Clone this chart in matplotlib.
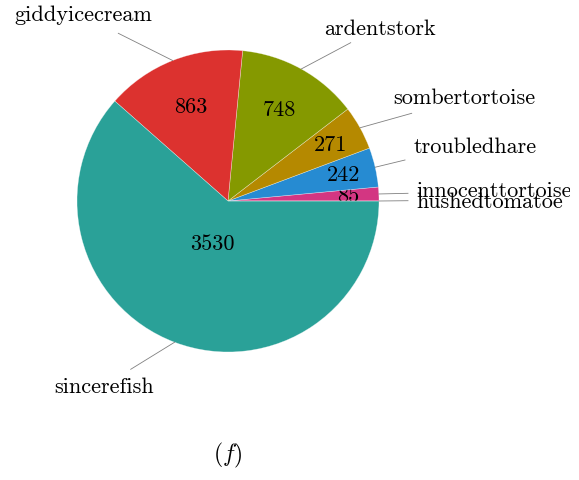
import numpy as np
import matplotlib
matplotlib.use("Agg")
from matplotlib import pyplot as plt

plt.rcParams['font.family'] = ['cmr10', 'DejaVu Serif']
plt.rcParams['mathtext.fontset'] = 'cm'
plt.rcParams['axes.unicode_minus'] = False

# slices, counterclockwise from 3 o'clock
names = ['innocenttortoise', 'troubledhare', 'sombertortoise', 'ardentstork',
         'giddyicecream', 'sincerefish', 'hushedtomatoe']
values = [85, 242, 271, 748, 863, 3530, 0]
colors = ['#d33682', '#268bd2', '#b58900', '#859900', '#dc322f', '#2aa198', '#6c71c4']

# layout, in pixels measured from the top-left corner
W, H = 579, 480
cx, cy, R = 228, 201, 151
num_frac = [0.80, 0.785, 0.775, 0.70, 0.675, 0.296, 0.8]
pin_end = [(408, 193.3), (405, 160), (411.7, 113.3), (350.7, 42.7),
           (118.3, 33.3), (130.7, 369.3), (408, 200.7)]
label_pos = [(416.7, 196.7, 'left'), (475, 152.7, 'center'), (464, 104, 'center'),
             (379.5, 35, 'center'), (83.5, 20.7, 'center'), (104, 393.3, 'center'),
             (416.7, 208.3, 'left')]

def px(x, y):
    return x, H - y

fig = plt.figure(figsize=(W / 100, H / 100), dpi=100)
clipw = 570
ax = fig.add_axes([0, 0, clipw / W, 1])
ax.set_xlim(0, clipw)
ax.set_ylim(0, H)
ax.set_aspect('equal')
ax.axis('off')

wedges, _ = ax.pie(values, colors=colors, startangle=0, counterclock=True,
                   center=px(cx, cy), radius=R, frame=True,
                   wedgeprops=dict(edgecolor=(1, 1, 1, 0.5), linewidth=0.4))
ax.set_xlim(0, clipw)
ax.set_ylim(0, H)
ax.axis('off')

total = float(sum(values))
start = 0.0
for i, (name, v) in enumerate(zip(names, values)):
    span = 360.0 * v / total
    mid = np.radians(start + span / 2)
    start += span
    wedges[i].set_zorder(2 * i + 2)
    ox, oy = px(cx, cy)
    if v > 0:
        r = num_frac[i] * R
        ax.text(ox + r * np.cos(mid), oy + r * np.sin(mid) - 7, str(v),
                ha='center', va='baseline', fontsize=16, zorder=2 * i + 3)
    ex, ey = ox + R * np.cos(mid), oy + R * np.sin(mid)
    qx, qy = px(*pin_end[i])
    ax.plot([ex, qx], [ey, qy], color='#808080', lw=0.6, zorder=30)
    lx, ly, ha = label_pos[i]
    t = ax.text(*px(lx, ly), name, ha=ha, va='baseline', fontsize=16, zorder=31)
    t.set_clip_on(True)

ax.text(*px(227.5, 455), r'$(f)$', ha='center', va='center', fontsize=17)

fig.savefig('out.png', dpi=100)
